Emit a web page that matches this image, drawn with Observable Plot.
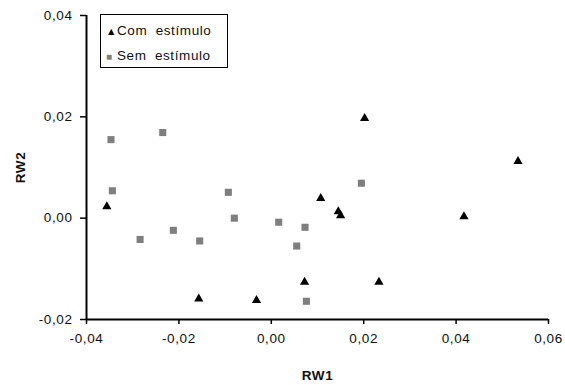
<!DOCTYPE html>
<html>
<head>
<meta charset="utf-8">
<script src="https://cdn.jsdelivr.net/npm/d3@7"></script>
<script src="https://cdn.jsdelivr.net/npm/@observablehq/plot@0.6"></script>
<style>
  html, body { margin: 0; padding: 0; background: #fff; }
  #wrap { position: relative; width: 565px; height: 385px; font-family: "Liberation Sans", Arial, sans-serif; }
  #wrap svg text { letter-spacing: 0.6px; }
  #wrap g[aria-label="x-axis label"] text, #wrap g[aria-label="y-axis label"] text { font-weight: bold; }
  #legend { position: absolute; left: 100px; top: 14px; width: 126px; height: 52px; border: 1.5px solid #000; background: #fff; font-size: 13.5px; letter-spacing: 0.6px; word-spacing: 4px; color: #111; }
  #legend .row { position: absolute; left: 5px; height: 16px; line-height: 16px; white-space: nowrap; }
  #legend .sym { display: inline-block; width: 11px; }
</style>
</head>
<body>
<div id="wrap"></div>
<script>
// Com estímulo (triangles)
const comX = [-0.0356, -0.0157, -0.0032, 0.0072, 0.0107, 0.0145, 0.0150, 0.0202, 0.0233, 0.0417, 0.0534];
const comY = [ 0.0023, -0.0159, -0.0162, -0.0126, 0.0039, 0.0013, 0.0005, 0.0197, -0.0126, 0.0003, 0.0112];
// Sem estímulo (squares)
const semX = [-0.0347, -0.0344, -0.0284, -0.0235, -0.0212, -0.0155, -0.0093, -0.0080, 0.0016, 0.0055, 0.0073, 0.0076, 0.0195];
const semY = [ 0.0155, 0.0054, -0.0042, 0.0169, -0.0024, -0.0045, 0.0051, 0.0000, -0.0008, -0.0055, -0.0018, -0.0164, 0.0069];
const xTicks = [-0.04, -0.02, 0, 0.02, 0.04, 0.06];
const yTicks = [-0.02, 0, 0.02, 0.04];
const seriesNames = ["Com estímulo", "Sem estímulo"];
const xLabel = "RW1";
const yLabel = "RW2";

const com = comX.map((x, i) => ({x, y: comY[i]}));
const sem = semX.map((x, i) => ({x, y: semY[i]}));
const fmt = d => d.toFixed(2).replace(".", ",");

const chart = Plot.plot({
  width: 565,
  height: 385,
  marginLeft: 86,
  marginRight: 17,
  marginTop: 15,
  marginBottom: 66,
  style: {fontFamily: "'Liberation Sans', Arial, sans-serif", fontSize: "13.5px", color: "#111", background: "#fff"},
  x: {domain: [-0.04, 0.06]},
  y: {domain: [-0.02, 0.04]},
  marks: [
    Plot.ruleX([xTicks[0]], {stroke: "#000", strokeWidth: 2}),
    Plot.ruleY([yTicks[0]], {stroke: "#000", strokeWidth: 2}),
    Plot.axisX({ticks: xTicks, tickFormat: fmt, tickSize: 5, tickPadding: 9, stroke: "#000", strokeWidth: 1.5, label: xLabel, labelAnchor: "center", labelArrow: "none", labelOffset: 60}),
    Plot.axisY({ticks: yTicks, tickFormat: fmt, tickSize: 6, tickPadding: 8, stroke: "#000", strokeWidth: 1.5, label: yLabel, labelAnchor: "center", labelArrow: "none", labelOffset: 71}),
    Plot.dot(sem, {x: "x", y: "y", symbol: "square", r: 4, fill: "#7f7f7f"}),
    Plot.dot(com, {x: "x", y: "y", symbol: "triangle2", r: 4.4, fill: "#000"})
  ]
});
const wrap = document.getElementById("wrap");
wrap.appendChild(chart);

const legend = document.createElement("div");
legend.id = "legend";
legend.innerHTML =
  `<div class="row" style="top:8px"><span class="sym" style="font-size:10.5px;color:#000">▲</span>${seriesNames[0]}</div>` +
  `<div class="row" style="top:33px"><span class="sym" style="font-size:10px;color:#7f7f7f">■</span>${seriesNames[1]}</div>`;
wrap.appendChild(legend);
</script>
</body>
</html>
